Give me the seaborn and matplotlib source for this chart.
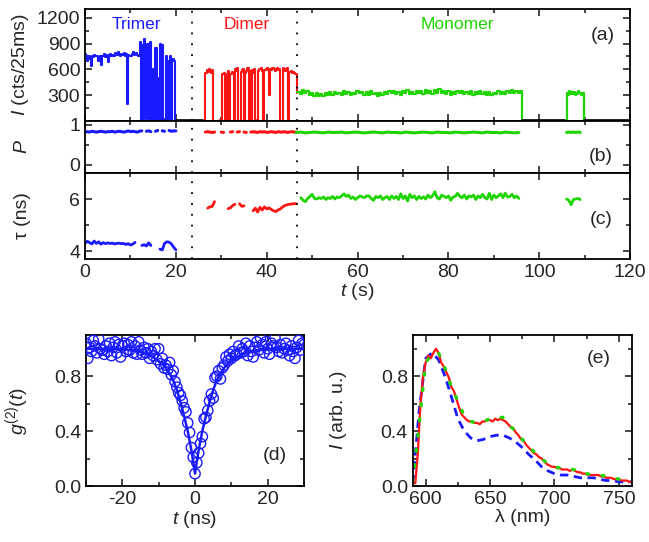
import numpy as np
import matplotlib.pyplot as plt
import seaborn as sns

# colours
blue = '#1a1aff'
red = '#ff1414'
green = '#1fd400'

# ---------------- (a) intensity trace (cts/25ms), coarsened ----------------
# each piece: start time (s), step (s), values
trimer_I_t0, trimer_I_dt = 0.0, 0.25
trimer_I = [780, 750, 700, 760, 720, 640, 760, 740,
            770, 750, 760, 700, 740, 760, 650, 750,
            760, 780, 740, 770, 690, 750, 780, 760,
            770, 760, 790, 780, 770, 800, 770, 760,
            780, 770, 790, 760, 780, 200, 770, 750,
            760, 780, 800, 770, 780, 790, 770, 760,
            920, 0, 880, 0, 950, 300, 20, 900,
            0, 920, 10, 600, 0, 10, 850, 0,
            0, 500, 900, 0, 880, 0, 20, 760,
            0, 700, 10, 750, 0, 720, 700, 10,
            0]

dimer_I_t0, dimer_I_dt = 26.25, 0.25
dimer_I = [0,
           560, 590, 570, 600, 580, 560, 590, 0,
           0, 0, 0, 0, 0, 10, 0, 540,
           560, 0, 0, 550, 580, 0, 540, 570,
           560, 0, 600, 580, 620, 0, 0, 570,
           590, 600, 0, 560, 580, 610, 0, 580,
           0, 590, 560, 600, 0, 10, 580, 600,
           600, 610, 580, 0, 590, 600, 620, 590,
           300, 600, 590, 610, 600, 580, 600, 610,
           590, 600, 0, 0, 610, 590, 580, 600,
           610, 0, 570, 580, 560, 570, 560, 550,
           540, 330]

mono_I_t0, mono_I_dt = 46.75, 0.5
mono_I = [340, 310, 355, 320, 345, 300, 330, 295, 320, 290,
          315, 285, 325, 300, 335, 305, 340, 310, 330, 300,
          345, 315, 335, 300, 330, 310, 350, 320, 340, 305,
          335, 300, 345, 315, 330, 290, 325, 305, 340, 310,
          350, 320, 345, 310, 335, 305, 345, 320, 355, 315,
          340, 310, 350, 320, 345, 315, 355, 325, 345, 310,
          360, 325, 375, 330, 350, 315, 345, 305, 340, 315,
          350, 320, 345, 310, 340, 315, 350, 305, 335, 310,
          345, 315, 340, 305, 335, 300, 330, 310, 345, 315,
          340, 310, 350, 325, 355, 320, 345, 330, 350, 0]

mono2_I_t0, mono2_I_dt = 105.75, 0.25
mono2_I = [0, 330, 300, 345, 310, 340, 315, 335, 300, 330, 310, 345, 320, 330, 305, 325, 0]

dark_pieces = [
    (20.0, 0.5, [6, 12, 8, 14, 5, 10, 9, 13, 7, 11, 8, 12, 6]),
    (96.25, 0.5, [8, 12, 6, 10, 14, 7, 11, 9, 13, 6, 10, 8, 12, 7, 11, 9, 13, 6, 10, 8]),
    (109.75, 0.5, [9, 13, 6, 11, 8, 12, 7, 10, 14, 6, 9, 12, 8, 11, 7, 13, 9, 10, 6, 12, 8, 10]),
]

# ---------------- (b) P ----------------
P_pieces = [
    (blue, 0.0, 0.5, [0.82, 0.83, 0.82, 0.84, 0.83, 0.82, 0.83, 0.84, 0.83, 0.82,
                      0.83, 0.83, 0.84, 0.82, 0.83, 0.84, 0.83, 0.82, 0.83, 0.85,
                      0.83, 0.84, 0.83, 0.82, 0.84, 0.85]),
    (blue, 13.5, 0.5, [0.84, 0.85, 0.83]),
    (blue, 15.5, 0.5, [0.84, 0.86]),
    (blue, 17.0, 0.5, [0.85, 0.84]),
    (blue, 18.5, 0.5, [0.86, 0.84, 0.85, 0.85]),
    (red, 26.5, 0.5, [0.82, 0.83, 0.82, 0.81, 0.82]),
    (red, 30.0, 0.5, [0.82, 0.81]),
    (red, 32.0, 0.5, [0.82, 0.83]),
    (red, 33.5, 0.5, [0.82, 0.83]),
    (red, 35.0, 0.5, [0.82, 0.81]),
    (red, 36.5, 0.5, [0.82, 0.83, 0.82, 0.81, 0.83, 0.82, 0.83, 0.81, 0.82, 0.83,
                      0.82, 0.81, 0.83, 0.82, 0.82, 0.83, 0.81, 0.82, 0.83, 0.82, 0.82]),
    (green, 46.5, 1.0, [0.81, 0.82, 0.80, 0.81, 0.82, 0.81, 0.80, 0.82, 0.81, 0.81,
                        0.82, 0.80, 0.81, 0.82, 0.81, 0.80, 0.81, 0.82, 0.81, 0.80,
                        0.82, 0.81, 0.81, 0.80, 0.82, 0.81, 0.80, 0.81, 0.82, 0.81,
                        0.80, 0.82, 0.81, 0.81, 0.80, 0.82, 0.81, 0.80, 0.81, 0.82,
                        0.81, 0.80, 0.82, 0.81, 0.81, 0.80, 0.82, 0.81, 0.80, 0.81]),
    (green, 106.0, 0.5, [0.81, 0.82, 0.81, 0.82, 0.81, 0.82, 0.81]),
]

# ---------------- (c) lifetime tau (ns) ----------------
tau_pieces = [
    (blue, 0.0, 0.5, [4.30, 4.38, 4.33, 4.28, 4.39, 4.30, 4.36, 4.27, 4.33, 4.29,
                      4.32, 4.30, 4.31, 4.28, 4.30, 4.31, 4.29, 4.30, 4.26, 4.29,
                      4.24, 4.27, 4.34]),
    (blue, 12.5, 0.5, [4.22, 4.25, 4.20, 4.32, 4.22]),
    (blue, 16.5, 0.5, [4.08, 4.05, 4.30, 4.36, 4.35, 4.28, 4.16, 4.05]),
    (red, 27.0, 0.5, [5.65, 5.70, 5.72, 5.90]),
    (red, 31.5, 0.5, [5.63, 5.66, 5.75, 5.80]),
    (red, 34.0, 0.5, [5.82, 5.72, 5.74]),
    (red, 37.0, 0.5, [5.55, 5.65, 5.50, 5.68, 5.58, 5.70, 5.62, 5.66, 5.60, 5.55,
                      5.52, 5.58, 5.62, 5.70, 5.75, 5.78, 5.80, 5.81, 5.82, 5.82]),
    (green, 47.5, 0.5, [6.05, 5.95, 5.90, 6.02, 6.10, 6.18, 6.02, 6.00, 6.05, 6.02,
                        6.08, 5.98, 6.05, 6.02, 6.10, 6.00, 6.08, 6.05, 6.12, 6.20,
                        6.10, 6.15, 6.02, 6.08, 5.98, 6.05, 6.12, 6.08, 6.05, 6.12,
                        6.12, 6.02, 5.95, 6.10, 6.05, 6.12, 5.98, 6.05, 6.10, 5.98,
                        6.12, 6.02, 6.10, 5.98, 6.20, 6.02, 6.12, 5.92, 6.18, 6.05,
                        6.12, 5.98, 6.10, 6.02, 6.08, 6.00, 6.15, 6.05, 6.12, 6.28,
                        6.05, 6.00, 6.15, 6.10, 6.05, 6.12, 5.95, 6.08, 6.10, 6.22,
                        6.10, 6.05, 6.15, 6.00, 6.12, 6.08, 6.15, 5.98, 6.12, 6.05,
                        6.18, 6.05, 6.00, 6.22, 5.98, 6.15, 6.05, 6.12, 6.20, 6.05,
                        6.22, 6.08, 6.10, 6.18, 6.05, 6.12, 6.02]),
    (green, 106.0, 0.5, [6.00, 5.95, 5.78, 5.98, 6.00, 6.02, 5.98]),
]

# state boundaries (dotted lines)
boundaries = [23.5, 46.7]

# ---------------- (d) g2 ----------------
g2_t = np.arange(-30, 30.01, 0.5)
g2 = [1.04, 0.93, 1.01, 0.98, 1.06, 1.02, 0.97, 1.07, 1.00, 0.99,
      0.96, 1.02, 0.98, 1.04, 0.95, 1.01, 1.05, 0.97, 1.03, 0.94,
      1.02, 1.04, 0.98, 1.03, 0.99, 1.05, 0.97, 1.02, 0.96, 1.05,
      0.99, 0.96, 1.01, 0.97, 1.00, 0.93, 0.98, 0.95, 1.00, 0.92,
      1.00, 0.89, 0.93, 0.86, 0.88, 0.85, 0.90, 0.81, 0.84, 0.76,
      0.72, 0.68, 0.66, 0.62, 0.57, 0.54, 0.46, 0.39, 0.28, 0.21,
      0.09,
      0.17, 0.24, 0.31, 0.36, 0.49, 0.50, 0.55, 0.62, 0.67, 0.64,
      0.79, 0.80, 0.84, 0.78, 0.86, 0.88, 0.94, 0.91, 0.96, 0.93,
      0.98, 0.95, 0.96, 1.02, 0.97, 1.00, 0.98, 1.04, 0.95, 1.02,
      0.98, 0.94, 1.01, 1.05, 0.99, 1.08, 1.03, 0.97, 1.05, 1.00,
      0.96, 1.04, 1.02, 1.08, 1.01, 0.98, 1.03, 0.97, 1.00, 1.04,
      0.99, 0.95, 1.02, 0.98, 0.93, 1.01, 1.06, 0.99, 1.04, 1.03]
fit_t = [-30, -25, -20, -16, -13, -11, -9, -8, -7, -6, -5, -4, -3, -2, -1.5, -1, -0.5, 0,
         0.5, 1, 1.5, 2, 3, 4, 5, 6, 7, 8, 9, 11, 13, 16, 20, 25, 30]
fit_g = [1.0, 1.0, 0.995, 0.985, 0.96, 0.93, 0.89, 0.86, 0.82, 0.77, 0.70, 0.61, 0.51, 0.40, 0.33, 0.26, 0.18, 0.09,
         0.18, 0.26, 0.33, 0.40, 0.51, 0.61, 0.70, 0.77, 0.82, 0.86, 0.89, 0.93, 0.96, 0.985, 0.995, 1.0, 1.0]

# ---------------- (e) spectra ----------------
wl_red = np.arange(590, 761, 2)
spec_red = [0.03, 0.02, 0.25, 0.60, 0.80, 0.90, 0.95, 0.93, 0.97, 1.00,
            0.97, 0.90, 0.87, 0.83, 0.79, 0.72, 0.69, 0.63, 0.57, 0.52,
            0.50, 0.48, 0.47, 0.47, 0.46, 0.46, 0.45, 0.47, 0.47, 0.48,
            0.48, 0.47, 0.49, 0.48, 0.49, 0.48, 0.47, 0.45, 0.43, 0.42,
            0.39, 0.37, 0.34, 0.33, 0.30, 0.28, 0.26, 0.24, 0.23, 0.21,
            0.20, 0.18, 0.16, 0.15, 0.14, 0.14, 0.13, 0.13, 0.12, 0.12,
            0.12, 0.11, 0.12, 0.11, 0.10, 0.10, 0.09, 0.09, 0.08, 0.08,
            0.08, 0.08, 0.08, 0.07, 0.07, 0.06, 0.06, 0.06, 0.05, 0.05,
            0.05, 0.04, 0.04, 0.04, 0.03, 0.03]
wl5 = np.arange(590, 761, 5)
spec_blue = [0.02, 0.55, 0.93, 0.97, 0.92, 0.80, 0.65, 0.49, 0.40, 0.35,
             0.33, 0.34, 0.36, 0.37, 0.37, 0.35, 0.32, 0.28, 0.23, 0.19,
             0.14, 0.11, 0.09, 0.08, 0.08, 0.07, 0.06, 0.06, 0.06, 0.05,
             0.04, 0.04, 0.03, 0.03, 0.03]
spec_green = [0.03, 0.45, 0.90, 0.96, 0.97, 0.86, 0.72, 0.62, 0.51, 0.47,
              0.46, 0.47, 0.49, 0.50, 0.50, 0.44, 0.40, 0.34, 0.29, 0.24,
              0.20, 0.16, 0.14, 0.13, 0.12, 0.12, 0.10, 0.09, 0.08, 0.08,
              0.07, 0.06, 0.05, 0.04, 0.04]

# ---------------- style ----------------
sns.set_style('ticks')
plt.rcParams['font.family'] = ['Liberation Sans', 'DejaVu Sans']
plt.rcParams['mathtext.fontset'] = 'custom'
plt.rcParams['mathtext.rm'] = 'Liberation Sans'
plt.rcParams['mathtext.it'] = 'Liberation Sans:italic'
plt.rcParams['axes.unicode_minus'] = False
plt.rcParams['axes.linewidth'] = 1.3
plt.rcParams['xtick.labelsize'] = 14
plt.rcParams['ytick.labelsize'] = 14
plt.rcParams['axes.labelsize'] = 14


def line(ax, t0, dt, vals, color, lw, **kw):
    t = t0 + dt * np.arange(len(vals))
    sns.lineplot(x=t, y=vals, ax=ax, color=color, linewidth=lw,
                 estimator=None, sort=False, **kw)


def style(ax):
    ax.tick_params(which='both', direction='in', top=True, right=True, width=1.2)
    ax.tick_params(which='major', length=5)
    ax.tick_params(which='minor', length=3)
    for s in ax.spines.values():
        s.set_visible(True)
        s.set_color('black')


fig = plt.figure(figsize=(6.49, 5.42), dpi=100)
axa = fig.add_axes([0.131, 0.777, 0.840, 0.206])
axb = fig.add_axes([0.131, 0.681, 0.840, 0.096])
axc = fig.add_axes([0.131, 0.522, 0.840, 0.159])
axd = fig.add_axes([0.1325, 0.1033, 0.336, 0.2786])
axe = fig.add_axes([0.636, 0.1033, 0.3375, 0.2786])

# (a)
line(axa, trimer_I_t0, trimer_I_dt, trimer_I, blue, 1.5, drawstyle='steps-post')
line(axa, dimer_I_t0, dimer_I_dt, dimer_I, red, 1.5, drawstyle='steps-post')
line(axa, mono_I_t0, mono_I_dt, mono_I, green, 1.6, drawstyle='steps-post')
line(axa, mono2_I_t0, mono2_I_dt, mono2_I, green, 1.6, drawstyle='steps-post')
for t0, dt, vals in dark_pieces:
    line(axa, t0, dt, vals, 'black', 1.2, drawstyle='steps-post')
axa.set_ylim(0, 1300)
axa.set_yticks([300, 600, 900, 1200])
axa.set_yticks(np.arange(150, 1300, 300), minor=True)
axa.text(11.2, 1125, 'Trimer', color=blue, fontsize=12.5, ha='center', va='center')
axa.text(35.5, 1125, 'Dimer', color=red, fontsize=12.5, ha='center', va='center')
axa.text(82, 1125, 'Monomer', color=green, fontsize=12.5, ha='center', va='center')
axa.text(114, 990, '(a)', fontsize=14, ha='center', va='center')
axa.set_ylabel('$I$ (cts/25ms)')

# (b)
for color, t0, dt, vals in P_pieces:
    line(axb, t0, dt, vals, color, 2.2)
axb.set_ylim(-0.2, 1.1)
axb.set_yticks([0, 1])
axb.set_yticks([0.5], minor=True)
axb.text(113.5, 0.22, '(b)', fontsize=14, ha='center', va='center')
axb.set_ylabel('$P$')

# (c)
for color, t0, dt, vals in tau_pieces:
    line(axc, t0, dt, vals, color, 2.0)
axc.set_ylim(3.7, 7.0)
axc.set_yticks([4, 6])
axc.set_yticks([5, 7], minor=True)
axc.text(113.7, 5.2, '(c)', fontsize=14, ha='center', va='center')
axc.set_ylabel('τ (ns)')
axc.set_xlabel('$t$ (s)', labelpad=0)

for ax in (axa, axb, axc):
    ax.set_xlim(0, 120)
    ax.set_xticks(np.arange(0, 121, 20))
    ax.set_xticks(np.arange(10, 120, 20), minor=True)
    for b in boundaries:
        ax.axvline(b, color='black', linestyle=(0, (1, 5)), linewidth=1.3)
    ax.yaxis.set_label_coords(-0.1, 0.5)
    style(ax)
for ax in (axa, axb):
    ax.tick_params(labelbottom=False)
    ax.set_xlabel('')

# (d)
sns.lineplot(x=fit_t, y=fit_g, ax=axd, color=blue, linewidth=1.8, estimator=None, sort=False)
sns.scatterplot(x=g2_t, y=g2, ax=axd, marker='o', s=55, color=blue,
                facecolor='none', edgecolor=blue, linewidth=1.0, zorder=3)
axd.set_xlim(-30, 30)
axd.set_ylim(0, 1.1)
axd.set_xticks([-20, 0, 20])
axd.set_xticks([-30, -10, 10, 30], minor=True)
axd.set_yticks([0.0, 0.4, 0.8])
axd.set_yticks([0.2, 0.6, 1.0], minor=True)
axd.set_yticklabels(['0.0', '0.4', '0.8'])
axd.set_xlabel('$t$ (ns)', labelpad=1)
axd.set_ylabel('$g^{(2)}(t)$')
axd.yaxis.set_label_coords(-0.25, 0.5)
axd.text(22, 0.22, '(d)', fontsize=14, ha='center', va='center')
style(axd)

# (e)
sns.lineplot(x=wl5, y=spec_blue, ax=axe, color=blue, linewidth=2.0, linestyle=(0, (3, 2)),
             estimator=None, sort=False)
sns.lineplot(x=wl_red, y=spec_red, ax=axe, color=red, linewidth=1.6, estimator=None, sort=False)
sns.lineplot(x=wl5, y=spec_green, ax=axe, color=green, linewidth=2.4, linestyle=(0, (0.6, 4)),
             dash_capstyle='round', estimator=None, sort=False)
axe.set_xlim(590, 760)
axe.set_ylim(0, 1.1)
axe.set_xticks([600, 650, 700, 750])
axe.set_xticks([625, 675, 725], minor=True)
axe.set_yticks([0.0, 0.4, 0.8])
axe.set_yticks([0.2, 0.6, 1.0], minor=True)
axe.set_yticklabels(['0.0', '0.4', '0.8'])
axe.set_xlabel('λ (nm)', labelpad=1)
axe.set_ylabel('$I$ (arb. u.)')
axe.yaxis.set_label_coords(-0.29, 0.5)
axe.text(734.6, 0.93, '(e)', fontsize=14, ha='center', va='center')
style(axe)

plt.savefig('out.png', dpi=100)
